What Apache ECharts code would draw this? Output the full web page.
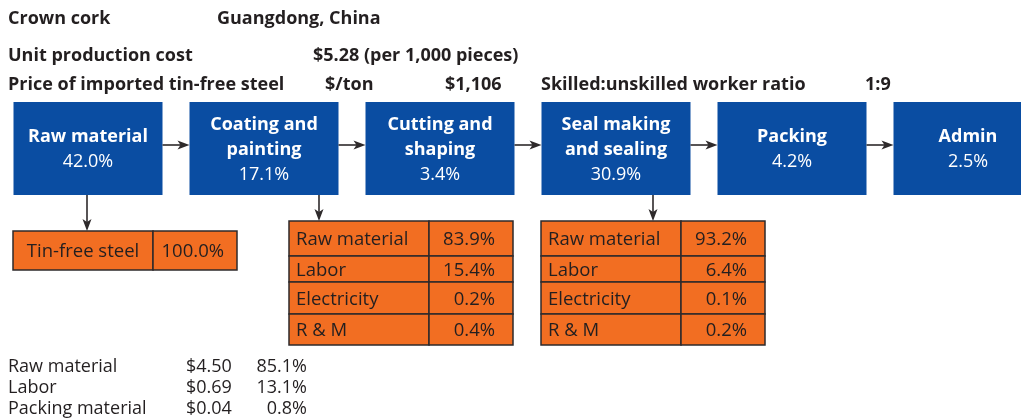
<!DOCTYPE html>
<html>
<head>
<meta charset="utf-8">
<script src="https://cdn.jsdelivr.net/npm/echarts@6/dist/echarts.min.js"></script>
<style>
  html, body { margin: 0; padding: 0; background: #ffffff; }
  #chart { width: 1021px; height: 419px; }
</style>
</head>
<body>
<div id="chart"></div>
<script>
// ---- Data ----------------------------------------------------------
const productName = 'Crown cork';
const productRegion = 'Guangdong, China';
const unitCostLabel = 'Unit production cost';
const unitCostText = '$5.28 (per 1,000 pieces)';
const steelPriceLabel = 'Price of imported tin-free steel';
const steelPriceUnit = '$/ton';
const steelPriceText = '$1,106';
const workerRatioLabel = 'Skilled:unskilled worker ratio';
const workerRatioText = '1:9';

// Production stages and their share of cost (%)
const stageNames = ['Raw material', 'Coating and\npainting', 'Cutting and\nshaping',
                    'Seal making\nand sealing', 'Packing', 'Admin'];
const stageShares = [42.0, 17.1, 3.4, 30.9, 4.2, 2.5];

// Breakdown of the raw material stage
const rawLabels = ['Tin-free steel'];
const rawShares = [100.0];

// Breakdown of coating and painting
const coatingLabels = ['Raw material', 'Labor', 'Electricity', 'R & M'];
const coatingShares = [83.9, 15.4, 0.2, 0.4];

// Breakdown of seal making and sealing
const sealLabels = ['Raw material', 'Labor', 'Electricity', 'R & M'];
const sealShares = [93.2, 6.4, 0.1, 0.2];

// Overall cost summary
const costItems = ['Raw material', 'Labor', 'Packing material'];
const costValues = [4.50, 0.69, 0.04];
const costShares = [85.1, 13.1, 0.8];

// ---- Styling -------------------------------------------------------
const FONT = '"Open Sans", "DejaVu Sans", sans-serif';
const BLUE = '#0A4DA2';
const ORANGE = '#F26E22';
const INK = '#231F20';
const LINE = '#2E2A2B';

const STAGE_PITCH = 176;           // px between stage box centres
const BOX_W = 149, BOX_TOP = 102, BOX_BOTTOM = 195;
const TABLE_W = 224, LABEL_COL = 140;

function arrowHead(x, y, dir) {
  // stealth-style arrowhead, tip at (x, y); dir 'right' or 'down'
  const L = 12, H = 4.5, N = 9;
  if (dir === 'right') {
    return [[x, y], [x - L, y - H], [x - N, y], [x - L, y + H]];
  }
  return [[x, y], [x - H, y - L], [x, y - N], [x + H, y - L]];
}

// Tables hanging under a stage box
const tables = [
  { stage: 0, labels: rawLabels, shares: rawShares, dx: -75, top: 231, rows: [39], centerLabel: true, arrowDx: -1, valuePad: 13 },
  { stage: 1, labels: coatingLabels, shares: coatingShares, dx: 25, top: 221, rows: [35, 26, 32, 31], centerLabel: false, arrowDx: 55, valuePad: 18 },
  { stage: 3, labels: sealLabels, shares: sealShares, dx: -75, top: 221, rows: [35, 26, 32, 31], centerLabel: false, arrowDx: 37, valuePad: 18 }
];

const chart = echarts.init(document.getElementById('chart'), null, { renderer: 'canvas' });

const stageSeries = {
  type: 'custom',
  coordinateSystem: 'cartesian2d',
  silent: true,
  data: stageNames.map((n, i) => [i, stageShares[i]]),
  renderItem(params, api) {
    const i = api.value(0);
    const share = api.value(1);
    const c = api.coord([i, (BOX_TOP + BOX_BOTTOM) / 2]);
    const lines = stageNames[i].split('\n').map(s => '{b|' + s + '}');
    lines.push('{p|' + share.toFixed(1) + '%}');
    return {
      type: 'group',
      children: [
        { type: 'rect', shape: { x: c[0] - BOX_W / 2, y: BOX_TOP, width: BOX_W, height: BOX_BOTTOM - BOX_TOP },
          style: { fill: BLUE } },
        { type: 'text', x: c[0], y: c[1] + 1,
          style: {
            text: lines.join('\n'), align: 'center', verticalAlign: 'middle',
            rich: {
              b: { fontFamily: FONT, fontSize: 18, fontWeight: 'bold', fill: '#ffffff', lineHeight: 25 },
              p: { fontFamily: FONT, fontSize: 18, fill: '#ffffff', lineHeight: 25 }
            }
          } }
      ]
    };
  }
};

// Flow arrows between consecutive stages
const flowSeries = {
  type: 'custom',
  coordinateSystem: 'cartesian2d',
  silent: true,
  data: stageNames.slice(1).map((n, i) => [i, i + 1]),
  renderItem(params, api) {
    const a = api.coord([api.value(0), 145]);
    const b = api.coord([api.value(1), 145]);
    const x0 = a[0] + BOX_W / 2, x1 = b[0] - BOX_W / 2;
    return {
      type: 'group',
      children: [
        { type: 'line', shape: { x1: x0, y1: a[1], x2: x1 - 8, y2: a[1] }, style: { stroke: LINE, lineWidth: 1.6 } },
        { type: 'polygon', shape: { points: arrowHead(x1, a[1], 'right') }, style: { fill: LINE } }
      ]
    };
  }
};

function tableSeries(t) {
  return {
    type: 'custom',
    coordinateSystem: 'cartesian2d',
    silent: true,
    data: t.labels.map((l, r) => [t.stage, r, t.shares[r]]),
    renderItem(params, api) {
      const r = api.value(1);
      const v = api.value(2);
      let y = t.top;
      for (let k = 0; k < r; k++) y += t.rows[k];
      const h = t.rows[r];
      const c = api.coord([t.stage, y]);
      const left = c[0] + t.dx;
      const children = [
        { type: 'rect', shape: { x: left, y: y, width: LABEL_COL, height: h },
          style: { fill: ORANGE, stroke: LINE, lineWidth: 1.5 } },
        { type: 'rect', shape: { x: left + LABEL_COL, y: y, width: TABLE_W - LABEL_COL, height: h },
          style: { fill: ORANGE, stroke: LINE, lineWidth: 1.5 } },
        { type: 'text', x: t.centerLabel ? left + LABEL_COL / 2 : left + 7, y: y + h / 2 + 1.5,
          style: { text: t.labels[r], fontFamily: FONT, fontSize: 18.5, fill: INK,
                   align: t.centerLabel ? 'center' : 'left', verticalAlign: 'middle' } },
        { type: 'text', x: left + TABLE_W - t.valuePad, y: y + h / 2 + 1.5,
          style: { text: v.toFixed(1) + '%', fontFamily: FONT, fontSize: 18.5, fill: INK,
                   align: 'right', verticalAlign: 'middle' } }
      ];
      if (r === 0) {
        const ax = c[0] + t.arrowDx;
        children.push(
          { type: 'line', shape: { x1: ax, y1: BOX_BOTTOM, x2: ax, y2: t.top - 8 }, style: { stroke: LINE, lineWidth: 1.6 } },
          { type: 'polygon', shape: { points: arrowHead(ax, t.top, 'down') }, style: { fill: LINE } }
        );
      }
      return { type: 'group', children: children };
    }
  };
}

// Header and summary text
function txt(x, y, s, bold, align) {
  return { type: 'text', x: x, y: y, silent: true,
    style: { text: s, fontFamily: FONT, fontSize: 18, fontWeight: bold ? 'bold' : 'normal',
             fill: INK, align: align || 'left', verticalAlign: 'middle' } };
}
const graphics = [
  txt(8, 19, productName, true),
  txt(217, 19, productRegion, true),
  txt(8, 56, unitCostLabel, true),
  txt(313, 56, unitCostText, true),
  txt(8, 85, steelPriceLabel, true),
  txt(325, 85, steelPriceUnit, true),
  txt(445, 85, steelPriceText, true),
  txt(541, 85, workerRatioLabel, true),
  txt(865, 85, workerRatioText, true)
];
costItems.forEach((item, i) => {
  const y = 367 + i * 21;
  graphics.push(txt(8, y, item, false));
  graphics.push(txt(186, y, '$' + costValues[i].toFixed(2), false));
  graphics.push(txt(307, y, costShares[i].toFixed(1) + '%', false, 'right'));
});

chart.setOption({
  animation: false,
  backgroundColor: '#ffffff',
  grid: { left: 0, right: 0, top: 0, bottom: 0, containLabel: false },
  // stage index axis: stage i is centred at (i + 0.5) * STAGE_PITCH px;
  // the last box runs past the right edge
  xAxis: { type: 'value', min: -0.5, max: -0.5 + 1021 / STAGE_PITCH, show: false },
  yAxis: { type: 'value', min: 0, max: 419, inverse: true, show: false },
  graphic: graphics,
  series: [stageSeries, flowSeries].concat(tables.map(tableSeries))
});
</script>
</body>
</html>
